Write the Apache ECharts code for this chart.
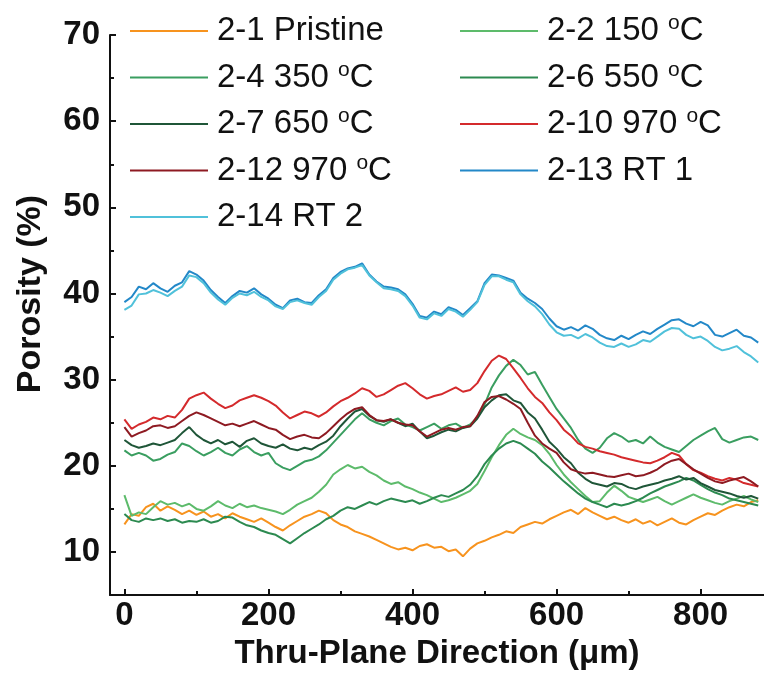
<!DOCTYPE html>
<html>
<head>
<meta charset="utf-8">
<script src="https://cdn.jsdelivr.net/npm/echarts@6/dist/echarts.min.js"></script>
<style>
  html, body { margin: 0; padding: 0; background: #fff; }
  #chart { width: 764px; height: 675px; }
</style>
</head>
<body>
<div id="chart"></div>
<script>
// thru-plane position (µm)
const xs = [
  0, 10, 20, 30, 40, 50, 60, 70, 80, 90,
  100, 110, 120, 130, 140, 150, 160, 170, 180, 190,
  200, 210, 220, 230, 240, 250, 260, 270, 280, 290,
  300, 310, 320, 330, 340, 350, 360, 370, 380, 390,
  400, 410, 420, 430, 440, 450, 460, 470, 480, 490,
  500, 510, 520, 530, 540, 550, 560, 570, 580, 590,
  600, 610, 620, 630, 640, 650, 660, 670, 680, 690,
  700, 710, 720, 730, 740, 750, 760, 770, 780, 790,
  800, 810, 820, 830, 840, 850, 860, 870, 880
];

// porosity (%) per sample
const s2_1 = [
  13.2, 14.4, 14.2, 15.2, 15.6, 14.8, 15.3, 14.9, 14.4, 14.8,
  14.3, 14.7, 14.1, 14.4, 13.9, 14.5, 14.1, 13.8, 13.5, 13.9,
  13.4, 12.9, 12.5, 13.1, 13.6, 14.1, 14.4, 14.8, 14.5, 13.7,
  13.2, 12.9, 12.4, 12.1, 11.8, 11.4, 11.0, 10.6, 10.3, 10.5,
  10.2, 10.7, 10.9, 10.5, 10.6, 10.1, 10.3, 9.5, 10.4, 11.0,
  11.3, 11.7, 12.0, 12.4, 12.2, 12.9, 13.2, 13.5, 13.3, 13.8,
  14.2, 14.6, 14.9, 14.4, 15.1, 14.6, 14.2, 13.8, 14.1, 13.7,
  13.4, 13.8, 13.3, 13.6, 13.1, 13.5, 13.9, 13.4, 13.2, 13.7,
  14.1, 14.5, 14.3, 14.8, 15.2, 15.5, 15.3, 15.8, 16.0
];
const s2_2 = [
  16.6, 14.2, 14.6, 14.4, 15.2, 15.9, 15.5, 15.7, 15.3, 15.6,
  15.0, 14.8, 15.3, 15.9, 15.4, 15.1, 15.6, 15.2, 15.4, 15.1,
  14.9, 14.7, 14.4, 14.9, 15.5, 15.9, 16.3, 17.0, 17.8, 19.0,
  19.6, 20.1, 19.7, 19.9, 19.3, 18.9, 18.3, 17.9, 18.1, 17.6,
  17.3, 16.9, 16.6, 16.2, 15.8, 16.0, 16.3, 16.7, 17.1, 17.9,
  19.4, 21.0, 22.4, 23.6, 24.3, 23.7, 23.3, 23.0, 22.4, 21.4,
  20.1, 19.0, 18.1, 17.3, 16.5, 15.8, 15.9, 16.9, 17.7, 17.1,
  16.4, 16.1, 15.8, 16.1, 16.4, 15.9, 15.5, 15.9, 16.3, 16.7,
  16.3, 16.0, 15.7, 15.5, 15.9, 16.2, 16.5, 16.1, 15.8
];
const s2_4 = [
  21.8, 21.2, 21.5, 21.2, 20.6, 20.8, 21.3, 21.6, 22.6, 22.3,
  21.7, 21.2, 21.6, 22.1, 21.5, 21.2, 21.9, 22.3, 21.6, 21.2,
  21.5, 20.3, 19.8, 19.5, 20.0, 20.5, 20.7, 21.1, 21.8, 22.7,
  23.6, 24.5, 25.4, 26.1, 25.4, 25.0, 24.7, 25.2, 25.5, 24.8,
  24.5, 24.1, 24.5, 24.9, 24.3, 24.7, 24.9, 24.4, 24.8, 25.6,
  27.1, 29.1, 30.5, 31.6, 32.3, 31.7, 30.6, 30.9, 29.4, 28.0,
  26.6, 25.5, 24.4, 23.0, 22.0, 21.5, 22.1, 23.2, 23.8, 23.4,
  22.8, 23.0, 22.6, 23.4, 22.7, 22.2, 21.9, 21.6, 22.3, 23.0,
  23.5, 24.0, 24.4, 23.1, 22.7, 23.0, 23.3, 23.4, 23.0
];
const s2_6 = [
  14.4, 13.7, 13.5, 13.9, 13.7, 13.9, 13.6, 13.8, 13.4, 13.6,
  13.5, 13.8, 13.4, 13.6, 14.1, 14.0, 13.5, 13.1, 12.9, 12.5,
  12.2, 12.0, 11.5, 11.0, 11.6, 12.2, 12.7, 13.2, 13.8, 14.2,
  14.8, 15.2, 15.0, 15.4, 15.8, 15.5, 15.9, 16.2, 16.0, 15.8,
  16.0, 15.6, 15.9, 16.3, 16.6, 16.4, 16.8, 17.2, 17.8, 18.8,
  20.2, 21.2, 22.0, 22.6, 22.9, 22.6, 22.0, 21.4, 20.5, 19.8,
  19.0, 18.2, 17.5, 16.8, 16.2, 15.8, 15.5, 15.2, 15.6, 15.4,
  15.6, 15.9, 16.3, 16.8, 17.2, 17.6, 17.9, 18.2, 18.6, 18.3,
  17.8, 17.3, 16.9, 16.6, 16.2, 16.0, 15.8, 15.6, 15.4
];
const s2_7 = [
  23.0, 22.4, 22.1, 22.3, 22.6, 22.4, 22.7, 23.0, 23.8, 24.5,
  23.6, 23.0, 22.6, 23.0, 22.5, 22.8, 22.2, 22.9, 23.2, 22.6,
  22.3, 22.1, 22.5, 22.0, 21.8, 22.1, 21.9, 22.4, 22.8, 23.5,
  24.6, 25.5, 26.3, 26.6, 25.8, 25.3, 25.1, 25.4, 25.0, 24.6,
  24.9, 24.0, 23.2, 23.5, 23.9, 24.2, 24.0, 24.4, 24.6, 25.5,
  26.8, 27.6, 28.2, 28.3, 27.6, 27.3, 26.2, 25.5, 24.2, 22.8,
  22.0, 21.0, 20.3, 19.2, 18.5, 18.0, 17.8, 17.6, 18.0, 17.9,
  17.5, 17.3, 17.6, 17.8, 18.0, 18.3, 18.5, 18.8, 18.4, 18.6,
  18.0, 17.6, 17.2, 17.0, 16.8, 16.5, 16.3, 16.5, 16.2
];
const s2_10 = [
  25.4, 24.3, 24.8, 25.1, 25.6, 25.4, 25.8, 25.6, 26.5, 27.8,
  28.2, 28.5, 27.8, 27.2, 26.7, 27.0, 27.6, 27.9, 28.2, 27.9,
  27.5, 27.0, 26.2, 25.5, 25.9, 26.3, 26.1, 25.7, 26.2, 26.9,
  27.5, 27.9, 28.4, 29.0, 28.7, 28.0, 28.3, 28.8, 29.3, 29.6,
  29.0, 28.3, 27.8, 28.1, 28.3, 28.7, 29.1, 28.6, 28.8, 29.6,
  31.0, 32.2, 32.8, 32.4, 31.3, 30.2, 29.0, 28.0, 27.3, 26.2,
  25.3, 24.2, 23.5, 22.6, 22.2, 22.0, 21.7, 21.5, 21.3, 21.0,
  20.8, 20.6, 20.4, 20.3, 20.6, 21.0, 21.5, 21.2, 20.2, 19.5,
  19.2, 18.8, 18.5, 18.3, 18.6, 18.4, 18.0, 17.8, 17.6
];
const s2_12 = [
  24.5, 23.4, 23.8, 24.1, 24.6, 24.7, 24.4, 24.6, 25.2, 25.8,
  26.2, 25.9, 25.5, 25.1, 24.7, 24.9, 24.6, 24.9, 25.2, 24.8,
  24.4, 24.2, 23.6, 23.1, 23.4, 23.6, 23.3, 23.2, 23.8, 24.6,
  25.4, 26.1, 26.6, 26.8, 25.9, 25.3, 25.2, 25.4, 25.0, 24.8,
  24.7, 24.0, 23.4, 23.8, 24.2, 24.4, 24.2, 24.5, 24.6, 25.8,
  27.4, 28.0, 28.1, 27.7, 27.2, 26.6, 25.0, 23.5, 22.6, 22.0,
  21.5, 20.4, 19.6, 19.3, 19.1, 19.2, 19.0, 18.8, 18.7, 18.9,
  19.1, 18.8, 18.9, 19.2, 19.6, 20.2, 20.6, 20.8, 20.2, 19.6,
  19.1, 18.6, 18.2, 18.0, 18.3, 18.5, 18.7, 18.2, 17.6
];
const s2_13 = [
  39.0, 39.6, 40.8, 40.5, 41.2, 40.6, 40.2, 40.9, 41.3, 42.6,
  42.2, 41.5, 40.4, 39.6, 38.9, 39.7, 40.3, 40.1, 40.6, 39.9,
  39.4, 38.7, 38.3, 39.2, 39.4, 39.0, 38.9, 39.8, 40.5, 41.8,
  42.5, 42.9, 43.1, 43.5, 42.2, 41.4, 40.8, 40.7, 40.5, 39.9,
  38.8, 37.4, 37.2, 37.9, 37.6, 38.4, 38.1, 37.5, 38.3, 39.1,
  41.2, 42.2, 42.1, 41.8, 41.5, 40.1, 39.4, 38.9, 38.2, 37.1,
  36.2, 35.8, 36.1, 35.7, 36.3, 35.9, 35.2, 34.8, 34.6, 35.1,
  34.7, 35.2, 35.6, 35.3, 35.9, 36.4, 36.9, 37.0, 36.5, 36.2,
  36.7, 36.3, 35.2, 35.0, 35.4, 35.8, 35.1, 34.9, 34.3
];
const s2_14 = [
  38.1, 38.6, 39.9, 40.0, 40.4, 40.1, 39.7, 40.3, 40.8, 42.1,
  41.9, 41.2, 40.1, 39.3, 38.7, 39.5, 40.0, 39.8, 40.2, 39.6,
  39.2, 38.5, 38.2, 39.0, 39.2, 38.9, 38.7, 39.6, 40.3, 41.6,
  42.3, 42.8, 43.0, 43.3, 42.1, 41.3, 40.6, 40.5, 40.3, 39.7,
  38.6, 37.2, 37.0, 37.7, 37.4, 38.2, 37.9, 37.3, 38.1, 39.0,
  41.0, 42.0, 42.0, 41.6, 41.3, 39.9, 39.1, 38.5, 37.6, 36.4,
  35.5, 35.1, 35.2, 34.8, 35.3, 34.9, 34.3, 33.9, 33.8, 34.2,
  33.8, 34.1, 34.6, 34.4, 35.0, 35.6, 36.0, 35.9, 35.2, 34.8,
  35.0, 34.5, 33.8, 33.4, 33.6, 33.9, 33.2, 32.7, 32.0
];

const names = ['2-1 Pristine', '2-2 150 °C', '2-4 350 °C', '2-6 550 °C', '2-7 650 °C',
  '2-10 970 °C', '2-12 970 °C', '2-13 RT 1', '2-14 RT 2'];
const values = [s2_1, s2_2, s2_4, s2_6, s2_7, s2_10, s2_12, s2_13, s2_14];
const colors = ['#F7931E', '#5DBB6B', '#3A9E60', '#2C8A50', '#1F5638',
  '#D42A2C', '#8E1A22', '#2388C8', '#50C1DA'];

const yTicks = [10, 20, 30, 40, 50, 60, 70];
const yMinor = [15, 25, 35, 45, 55, 65];
const xTicks = [0, 200, 400, 600, 800];
const xMinor = [100, 300, 500, 700];

const FONT = '"Liberation Sans", Arial, sans-serif';

const chart = echarts.init(document.getElementById('chart'));

const legendText = {
  fontFamily: FONT,
  fontSize: 33,
  color: '#111',
  lineHeight: 36,
  padding: [0, 0, 0, 4],
  rich: {
    sup: { fontFamily: FONT, fontSize: 21, lineHeight: 22, verticalAlign: 'top', color: '#111' }
  }
};
const legendCommon = {
  orient: 'vertical',
  top: 8,
  icon: 'rect',
  itemWidth: 78,
  itemHeight: 2,
  itemGap: 10.5,
  selectedMode: false,
  textStyle: legendText,
  formatter: name => name.replace(' °C', ' {sup|o}C')
};

const axisLine = { show: true, onZero: false, lineStyle: { color: '#111', width: 2 } };

const option = {
  animation: false,
  backgroundColor: '#fff',
  grid: { left: 110, right: 0, top: 35, bottom: 76 },
  legend: [
    Object.assign({ left: 125, data: [names[0], names[2], names[4], names[6], names[8]] }, legendCommon),
    Object.assign({ left: 455, data: [names[1], names[3], names[5], names[7]] }, legendCommon)
  ],
  xAxis: [{
    type: 'value',
    min: -20,
    max: 888,
    position: 'bottom',
    splitLine: { show: false },
    axisLine: axisLine,
    axisTick: { show: true, inside: true, length: 6, customValues: xTicks, lineStyle: { color: '#111', width: 2 } },
    axisLabel: { customValues: xTicks, margin: 4, fontFamily: FONT, fontSize: 33, fontWeight: 'bold', color: '#111' },
    name: 'Thru-Plane Direction (μm)',
    nameLocation: 'middle',
    nameGap: 33,
    nameTextStyle: { fontFamily: FONT, fontSize: 33, fontWeight: 'bold', color: '#111' }
  }, {
    type: 'value',
    min: -20,
    max: 888,
    position: 'bottom',
    splitLine: { show: false },
    axisLine: { show: false, onZero: false },
    axisTick: { show: true, inside: true, length: 4, customValues: xMinor, lineStyle: { color: '#111', width: 2 } },
    axisLabel: { show: false }
  }],
  yAxis: [{
    type: 'value',
    min: 5,
    max: 70,
    position: 'left',
    splitLine: { show: false },
    axisLine: axisLine,
    axisTick: { show: true, inside: true, length: 6, customValues: yTicks, lineStyle: { color: '#111', width: 2 } },
    axisLabel: { customValues: yTicks, margin: 10, fontFamily: FONT, fontSize: 33, fontWeight: 'bold', color: '#111' },
    name: 'Porosity (%)',
    nameLocation: 'middle',
    nameGap: 62,
    nameRotate: 90,
    nameTextStyle: { fontFamily: FONT, fontSize: 34, fontWeight: 'bold', color: '#111', padding: [0, 0, 0, 42] }
  }, {
    type: 'value',
    min: 5,
    max: 70,
    position: 'left',
    splitLine: { show: false },
    axisLine: { show: false, onZero: false },
    axisTick: { show: true, inside: true, length: 4, customValues: yMinor, lineStyle: { color: '#111', width: 2 } },
    axisLabel: { show: false }
  }],
  series: names.map((name, i) => ({
    name: name,
    type: 'line',
    xAxisIndex: 0,
    yAxisIndex: 0,
    symbol: 'none',
    showSymbol: false,
    lineStyle: { width: 2, color: colors[i] },
    itemStyle: { color: colors[i] },
    data: xs.map((x, j) => [x, values[i][j]])
  }))
};

chart.setOption(option);
</script>
</body>
</html>
